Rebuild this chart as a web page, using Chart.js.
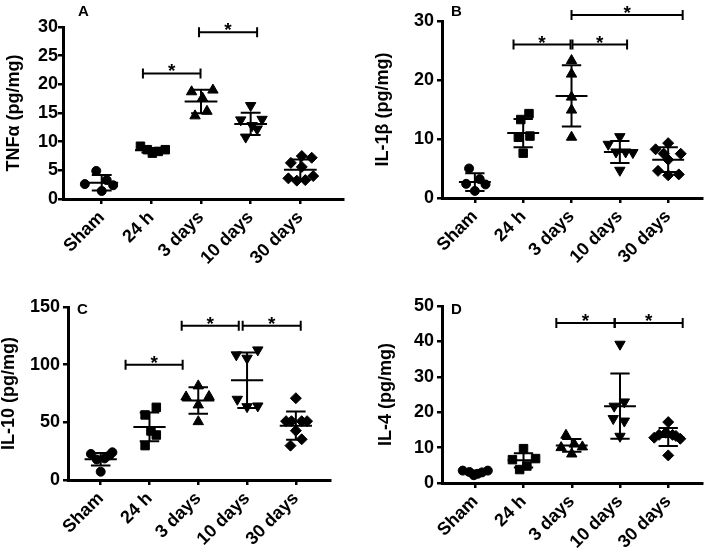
<!DOCTYPE html>
<html>
<head>
<meta charset="utf-8">
<script src="https://cdn.jsdelivr.net/npm/chart.js@4.4.1/dist/chart.umd.min.js"></script>
<style>
  body { margin: 0; background: #fff; width: 709px; height: 553px; position: relative; overflow: hidden; }
  canvas { position: absolute; }
</style>
</head>
<body>
<canvas id="chartA" width="350" height="275" style="left:0;top:0"></canvas>
<canvas id="chartB" width="354" height="275" style="left:355px;top:0"></canvas>
<canvas id="chartC" width="350" height="278" style="left:0;top:275px"></canvas>
<canvas id="chartD" width="354" height="278" style="left:355px;top:275px"></canvas>
<script>
const groups = ['Sham', '24 h', '3 days', '10 days', '30 days'];
const shapes = ['circle', 'rect', 'triangle', 'triangle', 'rectRot'];
const shapeRot = [0, 0, 0, 180, 0];
const shapeSize = [4.5, 6, 6, 6, 5.5];

// A - TNFα
const tnfValues = [
    [4.9, 2.6, 1.4, 3.3, 2.4],
    [9.2, 8.6, 8.0, 8.3, 8.6],
    [18.7, 19.0, 17.6, 14.5, 15.3],
    [16.3, 13.8, 13.9, 12.8, 12.2, 10.8],
    [7.5, 7.2, 6.3, 5.6, 3.6, 3.2, 3.3, 4.0]
];
const tnfJitter = [
    [-0.11, -0.34, 0, 0.1, 0.23],
    [-0.22, -0.08, 0.02, 0.14, 0.28],
    [-0.19, 0.24, 0.03, -0.12, 0.12],
    [0, -0.2, 0.23, 0.03, 0.13, -0.1],
    [0.03, 0.23, -0.19, 0.03, -0.24, -0.07, 0.1, 0.26]
];
const tnfMean = [2.85, 8.5, 17.0, 13.1, 5.1];
const tnfSd = [1.35, 0.4, 2.05, 1.95, 1.8];
const tnfBrackets = [[0.83, 1.99, 21.9], [1.96, 3.13, 29.1]];

// B - IL-1β
const il1bValues = [
    [5.0, 2.4, 1.2, 3.2, 2.3],
    [14.3, 13.3, 10.3, 10.5, 7.6],
    [23.3, 21.0, 17.1, 14.9, 10.3],
    [10.4, 9.1, 7.8, 7.8, 7.7, 4.7],
    [9.3, 8.25, 7.5, 7.5, 6.5, 4.6, 3.85, 4.0]
];
const il1bJitter = [
    [-0.12, -0.18, 0, 0.1, 0.22],
    [0.12, -0.05, -0.1, 0.14, 0],
    [0, 0, 0, 0, 0],
    [0, -0.24, -0.08, 0.12, 0.27, 0],
    [0, -0.26, -0.09, 0.26, 0, -0.21, 0, 0.22]
];
const il1bMean = [2.7, 11.0, 17.3, 7.8, 6.5];
const il1bSd = [1.5, 2.4, 5.2, 1.85, 2.1];
const il1bBrackets = [[0.8, 1.98, 26.0], [2.02, 3.15, 26.0], [2.0, 4.3, 31.0]];

// C - IL-10
const il10Values = [
    [22.6, 17.8, 18.7, 21.4, 24.0, 7.2],
    [63.0, 56.4, 42.5, 39.0, 29.8],
    [81.6, 72.0, 72.4, 65.1, 50.6],
    [108.5, 105.6, 112.8, 70.0, 63.6, 64.2],
    [70.9, 51.0, 51.0, 51.0, 51.0, 42.8, 35.3, 29.8]
];
const il10Jitter = [
    [-0.2, -0.08, 0.08, 0.18, 0.24, 0],
    [0.14, -0.09, 0.03, 0.14, -0.09],
    [0, -0.25, 0.22, 0, 0],
    [-0.22, 0, 0.22, -0.2, 0, 0.22],
    [0, -0.2, -0.09, 0.12, 0.23, 0, 0.12, -0.11]
];
const il10Mean = [18.0, 46.0, 69.0, 86.5, 47.1];
const il10Sd = [5.4, 12.5, 11.5, 24.0, 12.3];
const il10Brackets = [[0.51, 1.68, 100.0], [1.66, 2.83, 133.7], [2.91, 4.1, 133.7]];

// D - IL-4
const il4Values = [
    [3.5, 3.1, 2.2, 2.6, 3.0, 3.5],
    [9.7, 6.6, 6.9, 3.8, 4.8],
    [13.5, 10.0, 11.0, 10.2, 8.2],
    [39.2, 22.9, 21.7, 18.2, 17.5, 13.2],
    [17.2, 13.6, 14.2, 13.6, 13.3, 12.8, 12.5, 7.8]
];
const il4Jitter = [
    [-0.26, -0.12, -0.03, 0.05, 0.14, 0.26],
    [0, -0.23, 0.25, -0.08, 0.07],
    [-0.12, -0.22, 0.05, 0.22, 0],
    [0, 0.09, -0.12, -0.14, 0.09, 0],
    [0, -0.19, -0.05, 0.09, 0.16, -0.29, 0.25, 0]
];
const il4Mean = [2.9, 6.4, 10.6, 21.7, 13.0];
const il4Sd = [0.6, 2.0, 1.8, 9.2, 2.55];
const il4Brackets = [[1.68, 2.89, 45.2], [2.89, 4.3, 45.2]];

const fontFamily = '"Liberation Sans", Arial, sans-serif';

// mean line, SD whiskers, significance brackets and panel letter
const extrasPlugin = {
    id: 'extras',
    afterDraw(chart) {
        const p = chart.options.plugins.extras;
        const xs = chart.scales.x;
        const ys = chart.scales.y;
        const ctx = chart.ctx;
        ctx.save();
        ctx.strokeStyle = '#000';
        ctx.fillStyle = '#000';
        ctx.lineWidth = 2;
        p.mean.forEach(function(m, i) {
            const y = ys.getPixelForValue(m);
            const yTop = ys.getPixelForValue(m + p.sd[i]);
            const yBot = ys.getPixelForValue(m - p.sd[i]);
            ctx.beginPath();
            ctx.moveTo(xs.getPixelForValue(i - 0.33), y);
            ctx.lineTo(xs.getPixelForValue(i + 0.33), y);
            ctx.moveTo(xs.getPixelForValue(i), yTop);
            ctx.lineTo(xs.getPixelForValue(i), yBot);
            ctx.moveTo(xs.getPixelForValue(i - 0.2), yTop);
            ctx.lineTo(xs.getPixelForValue(i + 0.2), yTop);
            ctx.moveTo(xs.getPixelForValue(i - 0.2), yBot);
            ctx.lineTo(xs.getPixelForValue(i + 0.2), yBot);
            ctx.stroke();
        });
        ctx.font = 'bold 19px ' + fontFamily;
        ctx.textAlign = 'center';
        ctx.textBaseline = 'alphabetic';
        p.brackets.forEach(function(b) {
            const x1 = xs.getPixelForValue(b[0]);
            const x2 = xs.getPixelForValue(b[1]);
            const y = ys.getPixelForValue(b[2]);
            ctx.beginPath();
            ctx.moveTo(x1, y);
            ctx.lineTo(x2, y);
            ctx.moveTo(x1, y - 5);
            ctx.lineTo(x1, y + 5);
            ctx.moveTo(x2, y - 5);
            ctx.lineTo(x2, y + 5);
            ctx.stroke();
            ctx.fillText('*', (x1 + x2) / 2, y + 4);
        });
        ctx.font = 'bold 15px ' + fontFamily;
        ctx.textAlign = 'left';
        ctx.fillText(p.letter, p.letterX, p.letterY);
        ctx.restore();
    }
};

function makePanel(id, cfg) {
    const datasets = cfg.values.map(function(vals, g) {
        return {
            data: vals.map(function(v, j) { return { x: g + cfg.jitter[g][j], y: v }; }),
            pointStyle: shapes[g],
            rotation: shapeRot[g],
            radius: shapeSize[g],
            backgroundColor: '#000',
            borderColor: '#000',
            borderWidth: 1
        };
    });
    new Chart(document.getElementById(id), {
        type: 'scatter',
        data: { datasets: datasets },
        options: {
            responsive: false,
            animation: false,
            events: [],
            layout: { padding: { top: cfg.top, right: cfg.right, left: 0, bottom: 0 } },
            plugins: {
                legend: { display: false },
                tooltip: { enabled: false },
                extras: {
                    mean: cfg.mean, sd: cfg.sd, brackets: cfg.brackets,
                    letter: cfg.letter, letterX: cfg.letterX, letterY: cfg.letterY
                }
            },
            scales: {
                x: {
                    type: 'linear',
                    min: cfg.xMin,
                    max: cfg.xMax,
                    afterBuildTicks: function(s) { s.ticks = groups.map(function(g, i) { return { value: i }; }); },
                    afterFit: function(s) { s.height = cfg.xHeight; },
                    grid: { drawOnChartArea: false, drawTicks: true, tickLength: 5, color: '#000', lineWidth: 2.5 },
                    border: { color: '#000', width: 3 },
                    ticks: {
                        autoSkip: false,
                        maxRotation: 45,
                        minRotation: 45,
                        padding: 3,
                        color: '#000',
                        font: { family: fontFamily, size: 18, weight: 'bold' },
                        callback: function(v) { return groups[v]; }
                    }
                },
                y: {
                    min: 0,
                    max: cfg.yMax,
                    afterFit: function(s) { s.width = cfg.yWidth; },
                    grid: { drawOnChartArea: false, drawTicks: true, tickLength: 5, color: '#000', lineWidth: 2.5 },
                    border: { color: '#000', width: 3 },
                    ticks: {
                        stepSize: cfg.yStep,
                        padding: cfg.tickPad,
                        color: '#000',
                        font: { family: fontFamily, size: 18, weight: 'bold' }
                    },
                    title: {
                        display: true,
                        text: cfg.yTitle,
                        color: '#000',
                        padding: { top: cfg.titlePad, bottom: 0 },
                        font: { family: fontFamily, size: 18, weight: 'bold', lineHeight: 1 }
                    }
                }
            }
        },
        plugins: [extrasPlugin]
    });
}

makePanel('chartA', {
    values: tnfValues, jitter: tnfJitter, mean: tnfMean, sd: tnfSd, brackets: tnfBrackets,
    yMax: 30, yStep: 5, yTitle: 'TNFα (pg/mg)', letter: 'A', letterX: 78, letterY: 16,
    xMin: -0.78, xMax: 4.86, top: 27, right: 5, yWidth: 63, xHeight: 76, tickPad: 0, titlePad: 5
});
makePanel('chartB', {
    values: il1bValues, jitter: il1bJitter, mean: il1bMean, sd: il1bSd, brackets: il1bBrackets,
    yMax: 30, yStep: 10, yTitle: 'IL-1β (pg/mg)', letter: 'B', letterX: 96, letterY: 16,
    xMin: -0.68, xMax: 4.7, top: 21, right: 1, yWidth: 87, xHeight: 77, tickPad: 3, titlePad: 19
});
makePanel('chartC', {
    values: il10Values, jitter: il10Jitter, mean: il10Mean, sd: il10Sd, brackets: il10Brackets,
    yMax: 150, yStep: 50, yTitle: 'IL-10 (pg/mg)', letter: 'C', letterX: 77, letterY: 39,
    xMin: -0.67, xMax: 4.7, top: 32, right: 20, yWidth: 68, xHeight: 73, tickPad: 3, titlePad: 0
});
makePanel('chartD', {
    values: il4Values, jitter: il4Jitter, mean: il4Mean, sd: il4Sd, brackets: il4Brackets,
    yMax: 50, yStep: 10, yTitle: 'IL-4 (pg/mg)', letter: 'D', letterX: 96, letterY: 39,
    xMin: -0.69, xMax: 4.7, top: 31, right: 6, yWidth: 87, xHeight: 70, tickPad: 3, titlePad: 22
});
</script>
</body>
</html>
